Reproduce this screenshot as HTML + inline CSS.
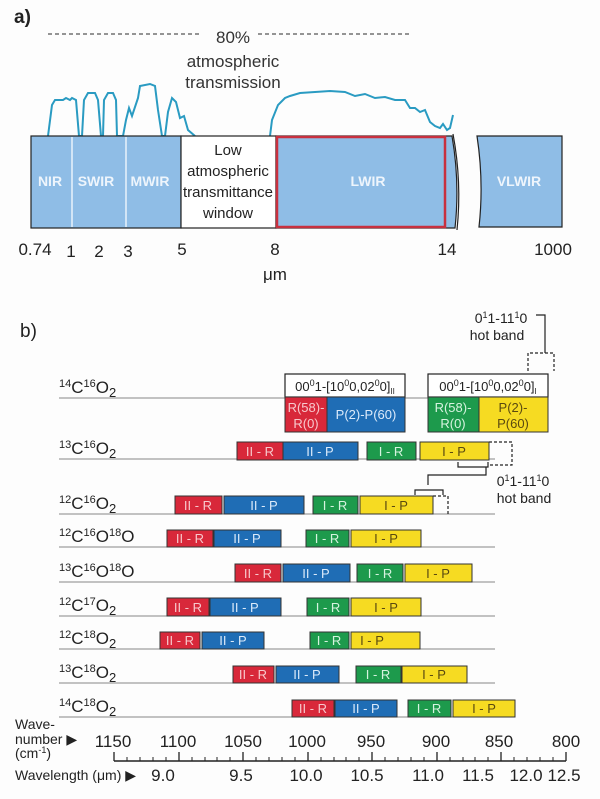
<!DOCTYPE html>
<html><head><meta charset="utf-8"><style>
html,body{margin:0;padding:0;background:#fdfdfd;}
svg{display:block;font-family:"Liberation Sans",sans-serif;}
</style></head><body>
<svg width="600" height="799" viewBox="0 0 600 799" xmlns="http://www.w3.org/2000/svg">
<rect width="600" height="799" fill="#fdfdfd"/>
<!-- Part a -->
<text x="14" y="23" font-size="19" font-weight="bold" fill="#222">a)</text>
<line x1="48" y1="34" x2="200" y2="34" stroke="#555" stroke-width="1.3" stroke-dasharray="4,3"/>
<line x1="258" y1="34" x2="411" y2="34" stroke="#555" stroke-width="1.3" stroke-dasharray="4,3"/>
<text x="233" y="43" font-size="17" text-anchor="middle" fill="#333">80%</text>
<text x="233" y="67" font-size="17" text-anchor="middle" fill="#333">atmospheric</text>
<text x="233" y="88" font-size="17" text-anchor="middle" fill="#333">transmission</text>
<path d="M48,136 L52,105 L55,100 L63,100 L66,98 L70,100 L72,98 L76,100 L79,136 L82,136 L84,100 L88,93 L95,93 L98,100 L101,136 L103,136 L104,100 L108,93 L113,93 L116,100 L117,136 L123,136 L126,120 L129,108 L132,116 L138,98 L140,86 L150,84 L155,86 L158,110 L162,136 L165,136 L168,112 L172,98 L176,102 L180,118 L184,116 L188,130 L195,136" fill="none" stroke="#2a9bc2" stroke-width="2"/>
<path d="M270,136 L272,120 L278,105 L285,98 L290,96 L300,93 L315,92 L330,91 L345,92 L355,96 L365,94 L375,98 L385,97 L395,100 L405,100 L410,108 L415,108 L420,112 L425,110 L430,122 L435,126 L440,128 L443,124 L447,130 L450,128 L453,115" fill="none" stroke="#2a9bc2" stroke-width="2"/>
<rect x="31" y="136" width="150" height="92" fill="#8fbde6" stroke="#222" stroke-width="1.2"/>
<rect x="181" y="136" width="95" height="92" fill="#fff" stroke="#222" stroke-width="1.2"/>
<path d="M276,136 L452,136 Q460,182 455,228 L276,228 Z" fill="#8fbde6" stroke="#222" stroke-width="1.2"/>
<rect x="277" y="137" width="168" height="90" fill="none" stroke="#c8303f" stroke-width="2.5"/>
<path d="M477,136 L562,136 L562,227 L479,227 Q484,182 477,136 Z" fill="#8fbde6" stroke="#222" stroke-width="1.2"/>
<path d="M453,134 Q462,182 457,230" fill="none" stroke="#222" stroke-width="1.2"/>
<line x1="72" y1="137" x2="72" y2="227" stroke="#e8f2fb" stroke-width="1.5"/>
<line x1="126" y1="137" x2="126" y2="227" stroke="#e8f2fb" stroke-width="1.5"/>
<g font-size="14" font-weight="bold" fill="#eef5fc" text-anchor="middle">
<text x="50" y="211" dy="-25" transform="scale(1,1)">NIR</text>
<text x="96" y="186">SWIR</text>
<text x="150" y="186">MWIR</text>
<text x="368" y="186">LWIR</text>
<text x="519" y="186">VLWIR</text>
</g>
<g font-size="15" fill="#222" text-anchor="middle">
<text x="228" y="155">Low</text>
<text x="228" y="176">atmospheric</text>
<text x="228" y="197">transmittance</text>
<text x="228" y="218">window</text>
</g>
<g font-size="17" fill="#222" text-anchor="middle">
<text x="35" y="255">0.74</text><text x="71" y="257">1</text><text x="99" y="257">2</text><text x="128" y="257">3</text>
<text x="182" y="255">5</text><text x="275" y="255">8</text><text x="447" y="255">14</text><text x="553" y="255">1000</text>
<text x="275" y="280">μm</text>
</g>
<!-- Part b -->
<text x="20" y="337" font-size="19" fill="#222">b)</text>
<g stroke="#888" stroke-width="1">
<line x1="59" y1="398" x2="495" y2="398"/><line x1="59" y1="459" x2="495" y2="459"/>
<line x1="59" y1="514" x2="495" y2="514"/><line x1="59" y1="547" x2="495" y2="547"/>
<line x1="59" y1="582" x2="495" y2="582"/><line x1="59" y1="616" x2="495" y2="616"/>
<line x1="59" y1="649" x2="495" y2="649"/><line x1="59" y1="683" x2="495" y2="683"/>
<line x1="59" y1="717" x2="495" y2="717"/>
</g>
<g font-size="17" fill="#222">
<text x="59" y="393"><tspan font-size="11" dy="-6">14</tspan><tspan dy="6">C</tspan><tspan font-size="11" dy="-6">16</tspan><tspan dy="6">O</tspan><tspan font-size="13" dy="4">2</tspan></text>
<text x="59" y="454"><tspan font-size="11" dy="-6">13</tspan><tspan dy="6">C</tspan><tspan font-size="11" dy="-6">16</tspan><tspan dy="6">O</tspan><tspan font-size="13" dy="4">2</tspan></text>
<text x="59" y="509"><tspan font-size="11" dy="-6">12</tspan><tspan dy="6">C</tspan><tspan font-size="11" dy="-6">16</tspan><tspan dy="6">O</tspan><tspan font-size="13" dy="4">2</tspan></text>
<text x="59" y="542"><tspan font-size="11" dy="-6">12</tspan><tspan dy="6">C</tspan><tspan font-size="11" dy="-6">16</tspan><tspan dy="6">O</tspan><tspan font-size="11" dy="-6">18</tspan><tspan dy="6">O</tspan></text>
<text x="59" y="577"><tspan font-size="11" dy="-6">13</tspan><tspan dy="6">C</tspan><tspan font-size="11" dy="-6">16</tspan><tspan dy="6">O</tspan><tspan font-size="11" dy="-6">18</tspan><tspan dy="6">O</tspan></text>
<text x="59" y="611"><tspan font-size="11" dy="-6">12</tspan><tspan dy="6">C</tspan><tspan font-size="11" dy="-6">17</tspan><tspan dy="6">O</tspan><tspan font-size="13" dy="4">2</tspan></text>
<text x="59" y="644"><tspan font-size="11" dy="-6">12</tspan><tspan dy="6">C</tspan><tspan font-size="11" dy="-6">18</tspan><tspan dy="6">O</tspan><tspan font-size="13" dy="4">2</tspan></text>
<text x="59" y="678"><tspan font-size="11" dy="-6">13</tspan><tspan dy="6">C</tspan><tspan font-size="11" dy="-6">18</tspan><tspan dy="6">O</tspan><tspan font-size="13" dy="4">2</tspan></text>
<text x="59" y="712"><tspan font-size="11" dy="-6">14</tspan><tspan dy="6">C</tspan><tspan font-size="11" dy="-6">18</tspan><tspan dy="6">O</tspan><tspan font-size="13" dy="4">2</tspan></text>
</g>
<!-- 14C16O2 -->
<rect x="285" y="374" width="120" height="23" fill="#fff" stroke="#222" stroke-width="1.2"/>
<text x="345" y="391" font-size="13" text-anchor="middle" fill="#222">00<tspan font-size="9" dy="-5">0</tspan><tspan dy="5">1-[10</tspan><tspan font-size="9" dy="-5">0</tspan><tspan dy="5">0,02</tspan><tspan font-size="9" dy="-5">0</tspan><tspan dy="5">0]</tspan><tspan font-size="8" dy="3">II</tspan></text>
<rect x="428" y="374" width="120" height="23" fill="#fff" stroke="#222" stroke-width="1.2"/>
<text x="488" y="391" font-size="13" text-anchor="middle" fill="#222">00<tspan font-size="9" dy="-5">0</tspan><tspan dy="5">1-[10</tspan><tspan font-size="9" dy="-5">0</tspan><tspan dy="5">0,02</tspan><tspan font-size="9" dy="-5">0</tspan><tspan dy="5">0]</tspan><tspan font-size="8" dy="3">I</tspan></text>
<g stroke="#333" stroke-width="1">
<rect x="285" y="397" width="42" height="35" fill="#d8283a"/>
<rect x="327" y="397" width="78" height="35" fill="#1f6db5"/>
<rect x="428" y="397" width="51" height="35" fill="#1d9a4c"/>
<rect x="479" y="397" width="69" height="35" fill="#f6db22"/>
</g>
<g font-size="13" text-anchor="middle">
<text x="306" y="412" fill="#f7c8cc">R(58)-</text><text x="306" y="428" fill="#f7c8cc">R(0)</text>
<text x="366" y="419" fill="#dbeafa">P(2)-P(60)</text>
<text x="453" y="412" fill="#d6f3df">R(58)-</text><text x="453" y="428" fill="#d6f3df">R(0)</text>
<text x="513" y="412" fill="#5a4a10">P(2)-</text><text x="513" y="428" fill="#5a4a10">P(60)</text>
</g>
<!-- hot band top -->
<text x="501" y="323" font-size="14" text-anchor="middle" fill="#222">0<tspan font-size="9" dy="-5">1</tspan><tspan dy="5">1-11</tspan><tspan font-size="9" dy="-5">1</tspan><tspan dy="5">0</tspan></text>
<text x="497" y="340" font-size="14" text-anchor="middle" fill="#222">hot band</text>
<path d="M536,315 L545,315 L545,353" fill="none" stroke="#222" stroke-width="1.2"/>
<path d="M528,371 L528,353 L554,353 L554,371" fill="none" stroke="#222" stroke-width="1.2" stroke-dasharray="3,2"/>
<!-- hot band 13/12 -->
<path d="M489,442 L512,442 L512,465 L489,465" fill="none" stroke="#222" stroke-width="1.2" stroke-dasharray="3,2"/>
<path d="M458,462 L458,467 L488,467 L488,462 M486,467 L486,475 L428,475 L428,485 M415,495 L415,490 L443,490 L443,495" fill="none" stroke="#222" stroke-width="1.2"/>
<path d="M433,496 L448,496 L448,514" fill="none" stroke="#222" stroke-width="1.2" stroke-dasharray="3,2"/>
<text x="523" y="486" font-size="14" text-anchor="middle" fill="#222">0<tspan font-size="9" dy="-5">1</tspan><tspan dy="5">1-11</tspan><tspan font-size="9" dy="-5">1</tspan><tspan dy="5">0</tspan></text>
<text x="524" y="503" font-size="14" text-anchor="middle" fill="#222">hot band</text>
<!-- band rows: red, blue, green, yellow -->
<g stroke="#333" stroke-width="1">
<rect x="237" y="442" width="46" height="18" fill="#d8283a"/><rect x="283" y="442" width="75" height="18" fill="#1f6db5"/><rect x="367" y="442" width="49" height="18" fill="#1d9a4c"/><rect x="420" y="442" width="69" height="18" fill="#f6db22"/>
<rect x="175" y="496" width="47" height="18" fill="#d8283a"/><rect x="224" y="496" width="80" height="18" fill="#1f6db5"/><rect x="313" y="496" width="45" height="18" fill="#1d9a4c"/><rect x="360" y="496" width="73" height="18" fill="#f6db22"/>
<rect x="167" y="530" width="46" height="17" fill="#d8283a"/><rect x="214" y="530" width="67" height="17" fill="#1f6db5"/><rect x="306" y="530" width="43" height="17" fill="#1d9a4c"/><rect x="351" y="530" width="70" height="17" fill="#f6db22"/>
<rect x="235" y="564" width="46" height="18" fill="#d8283a"/><rect x="283" y="564" width="67" height="18" fill="#1f6db5"/><rect x="357" y="564" width="46" height="18" fill="#1d9a4c"/><rect x="405" y="564" width="67" height="18" fill="#f6db22"/>
<rect x="167" y="598" width="42" height="18" fill="#d8283a"/><rect x="210" y="598" width="71" height="18" fill="#1f6db5"/><rect x="307" y="598" width="42" height="18" fill="#1d9a4c"/><rect x="351" y="598" width="70" height="18" fill="#f6db22"/>
<rect x="160" y="632" width="40" height="17" fill="#d8283a"/><rect x="202" y="632" width="62" height="17" fill="#1f6db5"/><rect x="310" y="632" width="39" height="17" fill="#1d9a4c"/><rect x="351" y="632" width="69" height="17" fill="#f6db22"/>
<rect x="233" y="666" width="41" height="17" fill="#d8283a"/><rect x="276" y="666" width="63" height="17" fill="#1f6db5"/><rect x="356" y="666" width="45" height="17" fill="#1d9a4c"/><rect x="402" y="666" width="65" height="17" fill="#f6db22"/>
<rect x="292" y="700" width="42" height="17" fill="#d8283a"/><rect x="335" y="700" width="62" height="17" fill="#1f6db5"/><rect x="408" y="700" width="43" height="17" fill="#1d9a4c"/><rect x="453" y="700" width="62" height="17" fill="#f6db22"/>
</g>
<g font-size="13" text-anchor="middle">
<g fill="#f7c8cc">
<text x="260" y="456">II - R</text><text x="198" y="510">II - R</text><text x="190" y="543">II - R</text><text x="258" y="578">II - R</text><text x="188" y="612">II - R</text><text x="180" y="645">II - R</text><text x="253" y="679">II - R</text><text x="313" y="713">II - R</text>
</g>
<g fill="#dbeafa">
<text x="320" y="456">II - P</text><text x="264" y="510">II - P</text><text x="247" y="543">II - P</text><text x="316" y="578">II - P</text><text x="245" y="612">II - P</text><text x="233" y="645">II - P</text><text x="307" y="679">II - P</text><text x="366" y="713">II - P</text>
</g>
<g fill="#d6f3df">
<text x="391" y="456">I - R</text><text x="335" y="510">I - R</text><text x="327" y="543">I - R</text><text x="380" y="578">I - R</text><text x="328" y="612">I - R</text><text x="329" y="645">I - R</text><text x="378" y="679">I - R</text><text x="429" y="713">I - R</text>
</g>
<g fill="#5a4a10">
<text x="454" y="456">I - P</text><text x="396" y="510">I - P</text><text x="386" y="543">I - P</text><text x="438" y="578">I - P</text><text x="386" y="612">I - P</text><text x="372" y="645">I - P</text><text x="434" y="679">I - P</text><text x="484" y="713">I - P</text>
</g>
</g>
<!-- axis -->
<line x1="114" y1="761" x2="566" y2="761" stroke="#222" stroke-width="1.5"/>
<g stroke="#222" stroke-width="1.3">
<line x1="114" y1="752" x2="114" y2="761"/><line x1="179" y1="752" x2="179" y2="761"/><line x1="243" y1="752" x2="243" y2="761"/><line x1="308" y1="752" x2="308" y2="761"/><line x1="372" y1="752" x2="372" y2="761"/><line x1="437" y1="752" x2="437" y2="761"/><line x1="501" y1="752" x2="501" y2="761"/><line x1="566" y1="752" x2="566" y2="761"/>
</g>
<g stroke="#222" stroke-width="1">
<path d="M127,757V761M140,757V761M153,757V761M166,757V761M192,757V761M205,757V761M217,757V761M230,757V761M256,757V761M269,757V761M282,757V761M295,757V761M321,757V761M334,757V761M346,757V761M359,757V761M385,757V761M398,757V761M411,757V761M424,757V761M450,757V761M463,757V761M475,757V761M488,757V761M514,757V761M527,757V761M540,757V761M553,757V761"/>
</g>
<g font-size="17" fill="#222" text-anchor="middle">
<text x="113" y="747">1150</text><text x="178" y="747">1100</text><text x="243" y="747">1050</text><text x="307" y="747">1000</text><text x="371" y="747">950</text><text x="436" y="747">900</text><text x="499" y="747">850</text><text x="566" y="747">800</text>
<text x="163" y="781">9.0</text><text x="241" y="781">9.5</text><text x="306" y="781">10.0</text><text x="367" y="781">10.5</text><text x="428" y="781">11.0</text><text x="478" y="781">11.5</text><text x="526" y="781">12.0</text><text x="564" y="781">12.5</text>
</g>
<g font-size="14" fill="#222">
<text x="15" y="729">Wave-</text>
<text x="15" y="744">number ▶</text>
<text x="15" y="758">(cm<tspan font-size="9" dy="-5">-1</tspan><tspan dy="5">)</tspan></text>
<text x="15" y="780">Wavelength (μm) ▶</text>
</g>
</svg>
</body></html>
